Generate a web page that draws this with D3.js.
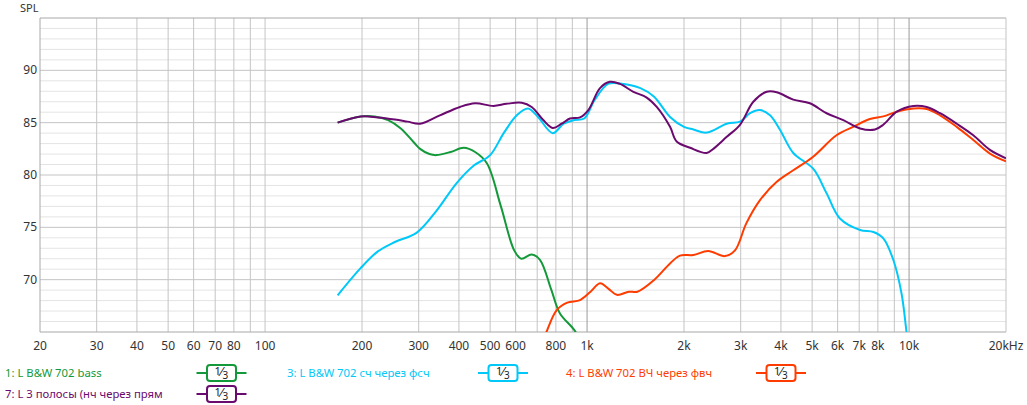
<!DOCTYPE html>
<html lang="en">
<head>
<meta charset="UTF-8">
<title>SPL</title>
<script src="https://d3js.org/d3.v7.min.js"></script>
<style>
    body { margin: 0; background: #fff; }
    svg { display: block; font-family: "Noto Sans", sans-serif; }
</style>
</head>
<body>
<div id="chart"></div>
<script>
// frequency ticks on the x axis
const xTicks = [20, 30, 40, 50, 60, 70, 80, 100, 200, 300, 400, 500, 600, 800,
    1000, 2000, 3000, 4000, 5000, 6000, 7000, 8000, 10000, 20000];
const xTickLabels = ["20", "30", "40", "50", "60", "70", "80", "100", "200", "300", "400", "500", "600", "800",
    "1k", "2k", "3k", "4k", "5k", "6k", "7k", "8k", "10k", "20kHz"];
const yTicks = [70, 75, 80, 85, 90];

// 1: L B&W 702 bass
const bassF  = [168, 198, 219, 241, 264, 290, 303, 324, 341, 377, 414, 449, 489, 540, 594, 625, 673, 714, 775, 823, 912, 960];
const bassDb = [85.0, 85.6, 85.6, 85.25, 84.45, 83.1, 82.5, 82.0, 81.9, 82.2, 82.6, 82.2, 81.1, 77.0, 72.8, 72.0, 72.4, 71.9, 69.0, 66.8, 65.2, 64.0];

// 3: L B&W 702 сч через фсч
const midF  = [168, 198, 224, 253, 296, 341, 393, 445, 500, 551, 605, 655, 704, 782, 846, 912, 980, 1055, 1162, 1265, 1464, 1612, 1810, 2000, 2139, 2351, 2716, 2985, 3209, 3444, 3700, 3976, 4369, 5037, 5545, 6099, 7047, 7747, 8317, 8932, 9473, 9820, 10100];
const midDb = [68.5, 71.1, 72.7, 73.6, 74.5, 76.6, 79.2, 80.9, 81.9, 84.0, 85.7, 86.35, 85.55, 84.0, 84.9, 85.25, 85.4, 87.15, 88.7, 88.75, 88.3, 87.5, 85.55, 84.6, 84.35, 84.05, 84.9, 85.1, 85.9, 86.2, 85.7, 84.3, 82.1, 80.6, 78.25, 75.85, 74.75, 74.55, 73.95, 71.9, 68.7, 65.0, 62.0];

// 4: L B&W 702 ВЧ через фвч
const highF  = [700, 748, 805, 868, 951, 1025, 1097, 1164, 1238, 1348, 1433, 1612, 1810, 1944, 2139, 2376, 2681, 2880, 3125, 3444, 3883, 4369, 5037, 5950, 6700, 7560, 8317, 9160, 10315, 11350, 12480, 14060, 15830, 17830, 20000];
const highDb = [62.5, 65.0, 67.1, 67.8, 68.05, 68.85, 69.65, 69.15, 68.55, 68.85, 68.85, 69.95, 71.55, 72.3, 72.35, 72.75, 72.25, 72.8, 75.4, 77.6, 79.35, 80.45, 81.75, 83.8, 84.6, 85.35, 85.6, 86.05, 86.35, 86.3, 85.7, 84.6, 83.35, 82.05, 81.3];

// 7: L 3 полосы (нч через прям
const sumF  = [168, 198, 224, 253, 277, 303, 349, 403, 449, 512, 562, 627, 673, 731, 782, 834, 885, 951, 1009, 1097, 1178, 1265, 1393, 1532, 1646, 1810, 1898, 2089, 2351, 2467, 2716, 2985, 3283, 3614, 3883, 4369, 4919, 5545, 6248, 7047, 7837, 8317, 9160, 10315, 11350, 12480, 14060, 15830, 17830, 20000];
const sumDb = [85.0, 85.6, 85.5, 85.3, 85.1, 84.9, 85.7, 86.5, 86.85, 86.6, 86.8, 86.9, 86.5, 85.25, 84.5, 84.9, 85.4, 85.5, 86.2, 88.3, 88.9, 88.7, 87.95, 87.4, 86.5, 84.6, 83.2, 82.6, 82.1, 82.5, 83.65, 84.8, 87.0, 87.95, 87.9, 87.2, 86.85, 85.9, 85.25, 84.45, 84.35, 84.8, 86.05, 86.6, 86.5, 85.9, 84.9, 83.8, 82.4, 81.6];

const seriesNames = ["1: L B&W 702 bass", "3: L B&W 702 сч через фсч", "4: L B&W 702 ВЧ через фвч", "7: L 3 полосы (нч через прям"];
const seriesColors = ["#14993a", "#00c8f8", "#ff3c00", "#6a0a6e"];

const series = [
    { name: seriesNames[0], color: seriesColors[0], f: bassF, db: bassDb },
    { name: seriesNames[1], color: seriesColors[1], f: midF, db: midDb },
    { name: seriesNames[2], color: seriesColors[2], f: highF, db: highDb },
    { name: seriesNames[3], color: seriesColors[3], f: sumF, db: sumDb }
];

const width = 1027, height = 405;
const plot = { left: 40, right: 1006, top: 18, bottom: 332 };

const svg = d3.select("#chart").append("svg")
    .attr("width", width)
    .attr("height", height);

const x = d3.scaleLog().domain([20, 20000]).range([plot.left, plot.right]);
const y = d3.scaleLinear().domain([65, 95]).range([plot.bottom, plot.top]);

// grid
const grid = svg.append("g");
// 1 dB minor lines, every 5 dB a bit darker
grid.selectAll(".hmin")
    .data(d3.range(66, 95))
    .enter().append("line")
    .attr("x1", plot.left).attr("x2", plot.right)
    .attr("y1", d => y(d)).attr("y2", d => y(d))
    .attr("stroke", d => d % 5 === 0 ? "#c4c4c4" : "#e4e4e4")
    .attr("stroke-width", 1);

// vertical lines at 20..90, 100..900 and so on
const vLines = [];
[10, 100, 1000, 10000].forEach(dec => {
    for (let k = 1; k <= 9; k++) {
        const f = dec * k;
        if (f > 20 && f < 20000) vLines.push(f);
    }
});
grid.selectAll(".v")
    .data(vLines)
    .enter().append("line")
    .attr("x1", d => x(d)).attr("x2", d => x(d))
    .attr("y1", plot.top).attr("y2", plot.bottom)
    .attr("stroke", d => (d === 1000 || d === 10000) ? "#9a9a9a" : "#c4c4c4")
    .attr("stroke-width", 1);

// frame
svg.append("line").attr("x1", plot.left).attr("x2", plot.right).attr("y1", plot.top).attr("y2", plot.top)
    .attr("stroke", "#a8a8a8");
svg.append("line").attr("x1", plot.left).attr("x2", plot.right).attr("y1", plot.bottom).attr("y2", plot.bottom)
    .attr("stroke", "#a8a8a8");
svg.append("line").attr("x1", plot.left).attr("x2", plot.left).attr("y1", plot.top).attr("y2", plot.bottom)
    .attr("stroke", "#a8a8a8");
svg.append("line").attr("x1", plot.right).attr("x2", plot.right).attr("y1", plot.top).attr("y2", plot.bottom)
    .attr("stroke", "#c4c4c4");

// y labels
svg.append("g").selectAll("text")
    .data(yTicks)
    .enter().append("text")
    .attr("x", plot.left - 3)
    .attr("y", d => y(d) + 4)
    .attr("text-anchor", "end")
    .attr("font-size", 12)
    .attr("fill", "#333")
    .text(d => d);

svg.append("text")
    .attr("x", 20).attr("y", 12)
    .attr("font-size", 11)
    .attr("fill", "#333")
    .text("SPL");

// x labels
svg.append("g").selectAll("text")
    .data(xTicks)
    .enter().append("text")
    .attr("x", d => x(d))
    .attr("y", 350)
    .attr("text-anchor", "middle")
    .attr("font-size", 12)
    .attr("fill", "#333")
    .text((d, i) => xTickLabels[i]);

// curves
svg.append("clipPath").attr("id", "clip")
    .append("rect")
    .attr("x", plot.left).attr("y", plot.top)
    .attr("width", plot.right - plot.left).attr("height", plot.bottom - plot.top);

const line = d3.line()
    .x(d => x(d[0]))
    .y(d => y(d[1]))
    .curve(d3.curveCatmullRom.alpha(0.5));

svg.append("g").attr("clip-path", "url(#clip)")
    .selectAll("path")
    .data(series)
    .enter().append("path")
    .attr("d", s => line(s.f.map((f, i) => [f, s.db[i]])))
    .attr("fill", "none")
    .attr("stroke", s => s.color)
    .attr("stroke-width", 2);

// legend
const legendPos = [
    { tx: 5, cx: 221.5, cy: 373 },
    { tx: 287, cx: 503, cy: 373 },
    { tx: 566, cx: 781, cy: 373 },
    { tx: 5, cx: 221.5, cy: 394 }
];

const legend = svg.append("g").selectAll("g")
    .data(series)
    .enter().append("g");

legend.append("text")
    .attr("x", (s, i) => legendPos[i].tx)
    .attr("y", (s, i) => legendPos[i].cy + 4)
    .attr("font-size", 11.3)
    .attr("fill", s => s.color)
    .text(s => s.name);

legend.append("line")
    .attr("x1", (s, i) => legendPos[i].cx - 25)
    .attr("x2", (s, i) => legendPos[i].cx + 25)
    .attr("y1", (s, i) => legendPos[i].cy)
    .attr("y2", (s, i) => legendPos[i].cy)
    .attr("stroke", s => s.color)
    .attr("stroke-width", 2);

legend.append("rect")
    .attr("x", (s, i) => legendPos[i].cx - 14.5)
    .attr("y", (s, i) => legendPos[i].cy - 8)
    .attr("width", 29)
    .attr("height", 16)
    .attr("rx", 3)
    .attr("fill", "#fff")
    .attr("stroke", s => s.color)
    .attr("stroke-width", 2);

const frac = legend.append("text")
    .attr("x", (s, i) => legendPos[i].cx - 7)
    .attr("y", (s, i) => legendPos[i].cy + 3)
    .attr("font-size", 11)
    .attr("fill", "#222");
frac.append("tspan").attr("dy", -1).text("1");
frac.append("tspan").attr("font-size", 13).attr("dy", 1).text("⁄");
frac.append("tspan").attr("font-size", 10).attr("dy", 3).text("3");
</script>
</body>
</html>
